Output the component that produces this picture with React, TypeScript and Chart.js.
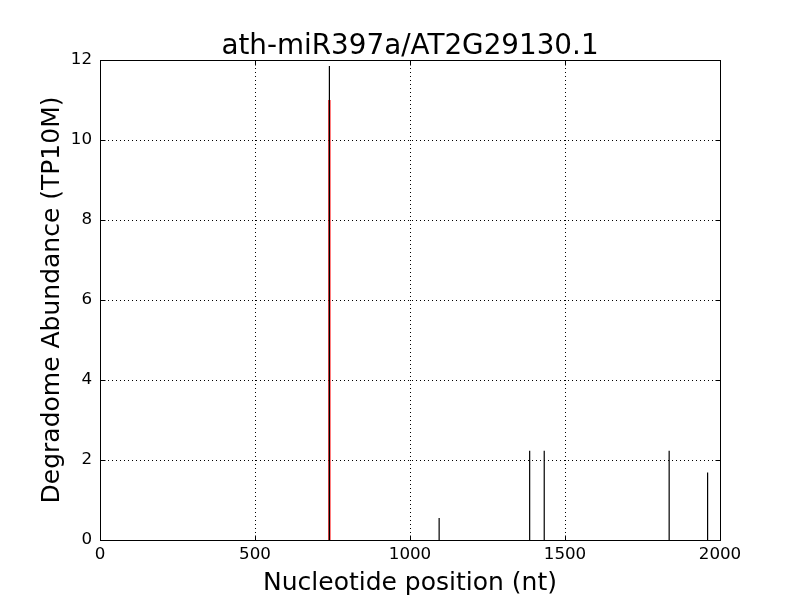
import React, { useEffect, useRef } from "react";
import { Chart, registerables } from "chart.js";

Chart.register(...registerables);

const chartTitle = "ath-miR397a/AT2G29130.1";
const xAxisLabel = "Nucleotide position (nt)";
const yAxisLabel = "Degradome Abundance (TP10M)";

const positions = [740, 1094, 1386, 1433, 1836, 1960];
const abundances = [11.85, 0.55, 2.23, 2.23, 2.23, 1.69];
const cleavagePositions = [740];
const cleavageAbundances = [11.0];

const xTicks = [0, 500, 1000, 1500, 2000];
const yTicks = [0, 2, 4, 6, 8, 10, 12];

const FONT = "'DejaVu Sans', sans-serif";

const framePlugin = {
  id: "frame",
  beforeDatasetsDraw(chart: any) {
    const { ctx, chartArea: a, scales } = chart;
    ctx.save();
    ctx.strokeStyle = "#000";
    ctx.lineWidth = 1;
    ctx.setLineDash([1, 3]);
    for (const v of xTicks) {
      const x = Math.round(scales.x.getPixelForValue(v)) + 0.5;
      ctx.beginPath();
      ctx.moveTo(x, a.top);
      ctx.lineTo(x, a.bottom);
      ctx.stroke();
    }
    for (const v of yTicks) {
      const y = Math.round(scales.y.getPixelForValue(v)) + 0.5;
      ctx.beginPath();
      ctx.moveTo(a.left, y);
      ctx.lineTo(a.right, y);
      ctx.stroke();
    }
    ctx.restore();
  },
  afterDraw(chart: any) {
    const { ctx, chartArea: a, scales } = chart;
    ctx.save();
    ctx.strokeStyle = "#000";
    ctx.lineWidth = 1;
    ctx.setLineDash([]);
    const L = Math.round(a.left) + 0.5;
    const R = Math.round(a.right) + 0.5;
    const T = Math.round(a.top) + 0.5;
    const B = Math.round(a.bottom) + 0.5;
    ctx.strokeRect(L, T, R - L, B - T);
    const len = 5;
    for (const v of xTicks) {
      const x = Math.round(scales.x.getPixelForValue(v)) + 0.5;
      ctx.beginPath();
      ctx.moveTo(x, B);
      ctx.lineTo(x, B - len);
      ctx.moveTo(x, T);
      ctx.lineTo(x, T + len);
      ctx.stroke();
    }
    for (const v of yTicks) {
      const y = Math.round(scales.y.getPixelForValue(v)) + 0.5;
      ctx.beginPath();
      ctx.moveTo(L, y);
      ctx.lineTo(L + len, y);
      ctx.moveTo(R, y);
      ctx.lineTo(R - len, y);
      ctx.stroke();
    }
    // title centred over the plot area
    ctx.fillStyle = "#000";
    ctx.font = `27.8px ${FONT}`;
    ctx.textAlign = "center";
    ctx.textBaseline = "alphabetic";
    ctx.fillText(chartTitle, (a.left + a.right) / 2, 54);
    ctx.restore();
  },
};

export default function App() {
  const ref = useRef<HTMLCanvasElement | null>(null);

  useEffect(() => {
    document.body.style.margin = "0";
    if (!ref.current) return;

    const stemSets = positions.map((p, i) => ({
      data: [
        { x: p, y: 0 },
        { x: p, y: abundances[i] },
      ],
      showLine: true,
      borderColor: "#000000",
      borderWidth: 1.2,
      pointRadius: 0,
      fill: false,
    }));
    const redSets = cleavagePositions.map((p, i) => ({
      data: [
        { x: p, y: 0 },
        { x: p, y: cleavageAbundances[i] },
      ],
      showLine: true,
      borderColor: "#ff0000",
      borderWidth: 2.2,
      pointRadius: 0,
      fill: false,
    }));

    const chart = new Chart(ref.current, {
      type: "scatter",
      data: { datasets: [...stemSets, ...redSets] as any },
      plugins: [framePlugin],
      options: {
        animation: false,
        responsive: false,
        maintainAspectRatio: false,
        layout: { padding: { top: 60, right: 80, bottom: 0, left: 0 } },
        plugins: {
          legend: { display: false },
          tooltip: { enabled: false },
          title: { display: false },
        },
        scales: {
          x: {
            type: "linear",
            min: 0,
            max: 2000,
            afterFit(scale: any) {
              scale.height = 60;
            },
            afterBuildTicks(scale: any) {
              scale.ticks = xTicks.map((v) => ({ value: v }));
            },
            grid: { display: false, drawTicks: false },
            border: { display: false },
            ticks: {
              color: "#000",
              padding: 5,
              maxRotation: 0,
              font: { family: FONT, size: 16.7 },
              callback: (v: any) => String(v),
            },
            title: {
              display: true,
              text: xAxisLabel,
              color: "#000",
              font: { family: FONT, size: 25 },
              padding: { top: 1.6, bottom: 1.6 },
            },
          },
          y: {
            type: "linear",
            min: 0,
            max: 12,
            afterFit(scale: any) {
              scale.width = 100;
            },
            afterBuildTicks(scale: any) {
              scale.ticks = yTicks.map((v) => ({ value: v }));
            },
            grid: { display: false, drawTicks: false },
            border: { display: false },
            ticks: {
              color: "#000",
              padding: 8,
              font: { family: FONT, size: 16.7 },
              callback: (v: any) => String(v),
            },
            title: {
              display: true,
              text: yAxisLabel,
              color: "#000",
              font: { family: FONT, size: 25 },
              padding: { top: 37, bottom: 37 },
            },
          },
        },
      } as any,
    });
    return () => chart.destroy();
  }, []);

  return (
    <div style={{ width: 800, height: 600, background: "#fff" }}>
      <canvas ref={ref} width={800} height={600} style={{ width: 800, height: 600 }} />
    </div>
  );
}
